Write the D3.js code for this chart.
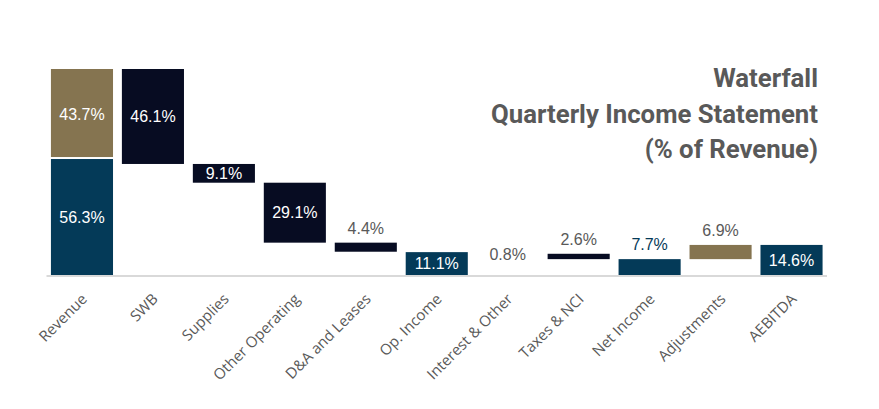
<!DOCTYPE html>
<html>
<head>
<meta charset="utf-8">
<script src="https://cdn.jsdelivr.net/npm/d3@7/dist/d3.min.js"></script>
<style>
  html, body { margin: 0; padding: 0; background: #fff; }
  svg { display: block; }
</style>
</head>
<body>
<div id="chart"></div>
<script>
// ---------- data ----------
const categories = ["Revenue", "SWB", "Supplies", "Other Operating", "D&A and Leases",
  "Op. Income", "Interest & Other", "Taxes & NCI", "Net Income", "Adjustments", "AEBITDA"];
const values = [100, -46.1, -9.1, -29.1, -4.4, 11.1, -0.8, -2.6, 7.7, 6.9, 14.6];
const kinds = ["total", "decrease", "decrease", "decrease", "decrease",
  "total", "decrease", "decrease", "total", "increase", "total"];
const revenueParts = [56.3, 43.7];
const titleLines = ["Waterfall", "Quarterly Income Statement", "(% of Revenue)"];

// ---------- styles ----------
const W = 879, H = 409;
const colBlue = "#043a58", colNavy = "#070c22", colTan = "#857450";
const labelGray = "#595959";
const margin = { left: 46.5, right: 52, top: 69, bottom: 134 };
const labelStyle = { // where each value label goes
  "Revenue": "inside", "SWB": "inside", "Supplies": "inside", "Other Operating": "inside",
  "D&A and Leases": "above", "Op. Income": "inside", "Interest & Other": "center",
  "Taxes & NCI": "above", "Net Income": "above", "Adjustments": "above", "AEBITDA": "inside"
};
const hiddenBars = new Set(["Interest & Other"]);

const svg = d3.select("#chart").append("svg").attr("width", W).attr("height", H);

const x = d3.scaleBand().domain(categories)
  .range([margin.left, W - margin.right]).paddingInner(0.125).paddingOuter(0.0625);
const y = d3.scaleLinear().domain([0, 100]).range([H - margin.bottom, margin.top]);

// waterfall computation
let running = 0;
const rows = categories.map((c, i) => {
  let start, end;
  if (kinds[i] === "total") { start = 0; end = values[i]; running = values[i]; }
  else { start = running; end = running + values[i]; running = end; }
  return { cat: c, value: values[i], kind: kinds[i], lo: Math.min(start, end), hi: Math.max(start, end) };
});

const fmt = v => Math.abs(v).toFixed(1) + "%";
const colorOf = d => d.kind === "total" ? colBlue : d.kind === "decrease" ? colNavy : colTan;

const g = svg.append("g");

// bars (Revenue stacked separately)
rows.forEach(d => {
  if (d.cat === "Revenue") {
    let acc = 0;
    revenueParts.forEach((p, j) => {
      const y0 = y(acc), y1 = y(acc + p);
      g.append("rect")
        .attr("x", x(d.cat)).attr("width", x.bandwidth())
        .attr("y", y1).attr("height", y0 - y1 - (j === 0 ? 0 : 2))
        .attr("fill", j === 0 ? colBlue : colTan);
      g.append("text")
        .attr("x", x(d.cat) + x.bandwidth() / 2).attr("y", (y0 + y1) / 2)
        .attr("dy", "0.36em").attr("text-anchor", "middle")
        .attr("font-family", "Liberation Sans, Arial, sans-serif").attr("font-size", 16)
        .attr("fill", "#fff").text(fmt(p));
      acc += p;
    });
    return;
  }
  g.append("rect")
    .attr("x", x(d.cat)).attr("width", x.bandwidth())
    .attr("y", y(d.hi)).attr("height", y(d.lo) - y(d.hi))
    .attr("fill", hiddenBars.has(d.cat) ? "none" : colorOf(d));
});

// value labels
rows.filter(d => d.cat !== "Revenue").forEach(d => {
  const pos = labelStyle[d.cat];
  const cx = x(d.cat) + x.bandwidth() / 2;
  const t = g.append("text")
    .attr("x", cx).attr("text-anchor", "middle")
    .attr("font-family", "Liberation Sans, Arial, sans-serif").attr("font-size", 16)
    .text(fmt(d.value));
  if (pos === "inside") {
    t.attr("y", (y(d.lo) + y(d.hi)) / 2).attr("dy", "0.36em").attr("fill", "#fff");
  } else if (pos === "center") {
    t.attr("y", (y(d.lo) + y(d.hi)) / 2 + 1).attr("dy", "0.36em").attr("fill", labelGray);
  } else {
    t.attr("y", y(d.hi) - 9).attr("fill", d.kind === "total" ? colBlue : labelGray);
  }
});

// x axis
const axisY = H - margin.bottom + 1;
g.append("line")
  .attr("x1", margin.left).attr("x2", W - margin.right)
  .attr("y1", axisY).attr("y2", axisY)
  .attr("stroke", "#d9d9d9").attr("stroke-width", 2);

g.selectAll(".xl").data(categories).enter().append("text")
  .attr("class", "xl")
  .attr("transform", c => `translate(${x(c) + x.bandwidth() / 2 + 6},${axisY + 24}) rotate(-45)`)
  .attr("text-anchor", "end")
  .attr("font-family", "'Open Sans', sans-serif").attr("font-size", 15)
  .attr("fill", labelGray)
  .text(c => c);

// title
const title = svg.append("text")
  .attr("text-anchor", "end")
  .attr("font-family", "Roboto, 'Open Sans', sans-serif").attr("font-weight", 700)
  .attr("font-size", 23).attr("fill", "#595959");
const tl = title.selectAll("tspan").data(titleLines).enter().append("tspan")
  .attr("x", 818).attr("y", (d, i) => 87 + i * 35.5).text(d => d);
// fit the width of the longest line to the reference
const w2 = tl.nodes()[1].getComputedTextLength();
title.attr("font-size", 23 * 327 / w2);
</script>
</body>
</html>
